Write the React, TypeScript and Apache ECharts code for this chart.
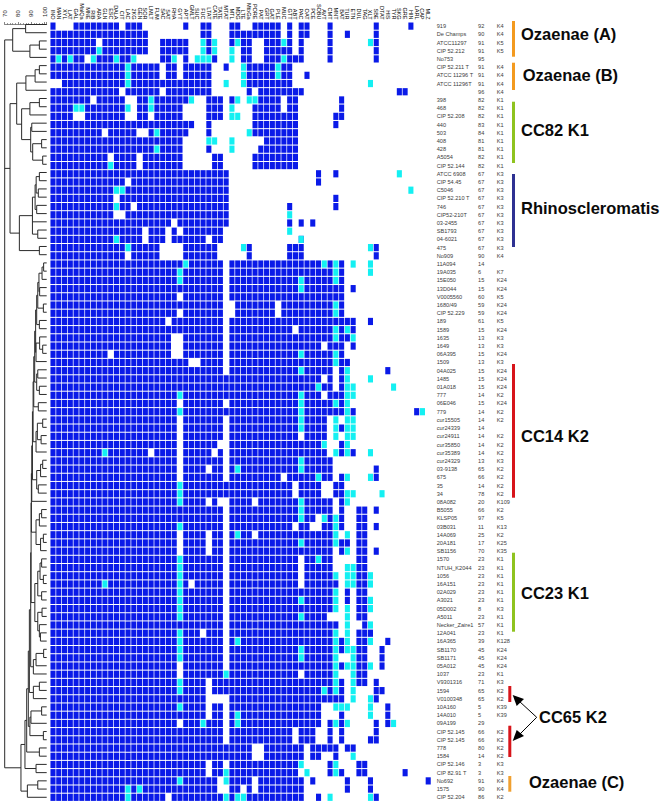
import React, { useEffect, useRef } from "react";
import * as echarts from "echarts";

const assays = ["INO","MAN","XYL","LAT","GAL","MalQa","MNE","RIB","ARA","GLN","ESC","DALA","CIT","LAC","2KG","GEN","SOR","LMLT","FUM","SAC","SAT","RHA","GYT","APT","GMLT","SUC","FUC","LTAT","CATE","TATE","MTAT","MTL","MDG","LTE","MtbGa","PORE","PAT","GRT","GAT","PLE","MUC","GTT","ABT","PAC","OAT","PCE","SOBU","AVT","CMT","MNT","BAT","TUR","ETN","DUL","TAG","XLT","SBE","DTAT","HIS","TYR","SKG","GRE","HIN","LARL","CAP","MLZ"];

const strains = ["919","De Champs","ATCC11297","CIP 52.212","No753","CIP 52.211 T","ATCC 11296 T","ATCC 11296T","","398","468","CIP 52.208","440","503","408","428","A5054","CIP 52.144","ATCC 6908","CIP 54.45","C5046","CIP 52.210 T","746","CIP52-210T","03-2455","SB1793","04-6021","475","No909","11A094","19A035","15E050","13D044","V0005560","1680/49","CIP 52.229","189","1589","1635","1649","06A395","1509","04A025","1485","01A018","777","06E046","779","cur15505","cur24339","cur24911","cur35850","cur35389","cur24329","03-9138","675","35","34","08A082","B5055","KLSP05","03B031","14A069","20A181","SB1156","1570","NTUH_K2044","1056","16A151","02A029","A3021","05D002","A5011","Necker_Zaire1","12A041","16A365","SB1170","SB1171","05A012","1037","V9301316","1594","V0100348","10A160","14A010","09A199","CIP 52.145","CIP 52.145","778","1584","CIP 52.146","CIP 82.91 T","No692","1575","CIP 52.204"];

const sequenceTypes = ["92","90","91","91","95","91","91","91","96","82","82","82","83","84","81","81","82","82","67","67","67","67","67","67","67","67","67","67","90","14","6","15","15","60","59","59","61","15","13","13","15","13","15","15","15","14","15","14","14","14","14","14","14","13","65","66","14","78","20","66","97","11","25","17","70","23","23","23","23","23","23","8","23","57","23","39","45","45","45","23","71","65","65","5","5","29","66","66","80","14","3","3","91","90","86"];

const capsules = ["K4","K4","K5","K5","","K4","K4","K4","K4","K1","K1","K1","K1","K1","K1","K1","K1","K1","K3","K3","K3","K3","K3","K3","K3","K3","K3","K3","K4","","K7","K24","K24","K5","K24","K24","K5","K24","K3","K3","K24","K3","K24","K24","K24","K2","K24","K2","K2","","K2","K2","K2","K3","K2","K2","K2","K2","K109","K2","K5","K13","K2","K25","K35","K1","K1","K1","K1","K1","K1","K3","K1","K1","K1","K128","K24","K24","K24","K1","K3","K2","K2","K39","K39","","K2","K2","K2","K2","K3","K3","K4","K4","K2"];

// Positive results per strain, as column index ranges.
const positive = ["0,4-11,13-15,23,26,27,31,32,35-39,41,43,44,48,56,62","0-16,26,27,31-39,41,43,44,48,51,56","0-7,9-16,19-23,27,31,33,34,37-39,41,43,48,56","0-7,9-16,19-23,27,33,34,37-41,43,48,56","0,2,4,5,8-10,12,13,19,20,23,28,33,34,37-39,41-43,48,56","0-12,14-18,20,21,23-27,30,34-38,40,41","0-12,14-18,20,21,23-27,34-38,40,41,44","2-12,14-27,34-41","0-11,13-18,20-27,34,36-43,60,61","0-6,8-12,15,16,18-23,27-29,31,36-39,41,42,50","0-3,6-12,15,16,18-22,27-29,35-39,41,42,50","0-3,6-12,15,16,18-22,27-29,35-42,49,50","0-24,27,35-42,49","0-8,10-14,17,19-23,27,35-42","0-22,37-42","0-17,19-22,27,36-42","0-9,11-14,16-22,28,29,35-42","0-9,11-14,16-22,28,29,35-42","0-30,46,49","0-12,14-30,46","0-10,13-30","0-10,12-30,49","0-10,12,13,15-30,41,49","0-10,13-30","0-20,22-30,41,43,45","0-15,17-19,21,23-29","0-10,12-15,17-19,21-26,28,29,43","0-12,14-18,23-28,34,41-43,56","0-12,14-18,23-28,34,41-43,56","0-22,24-29,31-46,48,50","0-21,23-29,31-48,50","0-21,23-29,31-42,44-48,50","0-29,31-42,44-50,52","0-21,23-29,31-50","0-29,32-38,40-48,50","0-21,23-29,32-38,40-48,50","0-19,21-29,31-52,55","0-29,31-41,43-48,50,52","0-20,23-29,31-48,50,51","0-20,23-29,31-46,48-50,52","0-9,11-20,23-29,31-42,44-48,50","0-23,26-29,31-48,50,51","0-29,31-42,44-48,50,58","0-46,48,50","0-45,47,48,50","0-21,23-42,44-46,48-50","0-21,23-29,31-42,44-48,50","0-21,23-42,44-50,52,63","0-21,23-29,31-42,44-47","0-21,23-29,31-42,44-47,50","0-21,23-29,31-42,44-47","0-21,23-28,31-46,50","0-8,10-16,18-21,23-27,29,31-47,50,52","0-21,23-29,31-42,44-48","0-21,23-26,28,29,31,33-42,44-48,56","0-21,23-29,31-39,41-45,47,48,50,56","0-21,23-41,43-46,49,50","0-21,23-41,43-46,49,50","0-21,23-26,28,31-34,36-42,44-48,50","0-29,31-42,44-48,50,53,54,56","0-29,31-42,44,45,48,50,53,54","0-21,23-29,31-41,43,44,47,48,50,53,54,56","0-21,23-26,28,29,31,33,34,36-48,53,54","0-21,23-26,28,29,31-42,44-48,50,51,53,54","0-21,23-26,28,29,31-48,50,53,54,56","0-21,23-29,31-42,44,45,47,48,53,54","0-21,23-29,31-42,44-48,53,54","0-21,23-29,31-42,44-48,53,54","0-8,10-21,23,25-29,31-42,44-49,53,54","0-21,23-29,31-48,51,53,54","0-21,23-29,31-42,44-48,51,53,54","0-21,23-29,31-48,53,54","0-21,23-29,31-42,44-47,53,54","0-29,31-49,54","0-21,23-25,27-29,31-48,53-55","0-21,23-29,31,33-48,50,53,54,58","0-21,23-29,31-42,44-48,50,53,54,57","0-21,23-29,31-42,44-48,53,54,57","0-21,23-29,31-48,50,53,54,57","0-21,23-29,31-42,44-48,53,54","0-21,23-26,28-48,50,53,54,56","0-21,23-26,28-46,48,50,56,57","0-26,31-50,56","0-21,23-26,28,29,31-46,58","0-26,28,29,31,33-46,50,58","0-21,23-25,27-29,31,33-46,48,50,56,58","0-29,31-41,43-45,48,50,56","0-29,31-41,43-45,48,50,55,56","0-34,37-43,45-49,51,52","0-34,37-43,45,46,49","0-26,28,29,31-42,48,53,54","0-26,28,29,31-42,48,50,53,54,61","0-21,23-28,31-34,36-43,45,51,55,65","0-12,14,16-28,31,32,34,36-43,51,55","0-12,14-19,21-29,31,34-43,46,56"];

// Variable results per strain.
const variable = ["","","26,28,32,40,55","8,26,28,31","1,3,7,11,14,21,25-27,31,40","13,33,39","13,33,39","13,30,33,55","","17,24,32,34,35","4,5,13,17,31","31,32","","18,34","27,28,31","18,31","","10","60","","11,12,62","","11","41","","41","11,43","13,33,55","","23,47,49,52,55","22,49,55","22,43,49","43","","49","49","","49,51","49,52","","43,49","49","43,51","51,55","46,51,52,59","22,43,51,52","43,49,51","22,43,51,64","43,49,51,52","43,49,51,52","49,51,52","47,51","9,49,51,55","43","32,43","46,51,55","22","22,51,52,57","22,43,51","43","43,47,49","22,49","32,49,51","43,49","51","22,46","22,51,52","22,49,51,52,55","9,22,51,52,55","22,49","22,43,49,55","22,49,51,55","22,43,51","51,55","22,49,51","22,32,49,51,55","22,43,49,51,52","22,43,49,52","49,51,52,55","30,49,52","22,49,52","22,47,49,52","52,55","22,49,50,51,55","32,55","26,32,49,51,59","","","","52","43,49","30,44,49","22,30","13,15","13,30,32,33,48,55"];

// Clustering tree on the drawn axis: [similarity, ...children]; a plain number is a row.
const ladder1 = [95.7, [98.0, [99.2, 29, 30], 31], [96.2, 32, 33]];
const ladder2 = [94.8, ladder1, [99.0, 34, 35]];
const ladder3 = [94.0, ladder2, [96.0, 36, 37]];
const ladder4 = [93.2, ladder3, [93.5, [96.2, 38, [98.5, 39, 40]], 41]];
const ladder5 = [92.5, ladder4, [94.0, [94.8, 42, 43], [96.0, 44, 45]]];
const ladder6 = [91.8, ladder5, [95.2, 46, 47]];
const ladder7 = [91.3, ladder6, [93.5, [94.5, [98.5, 48, 49], [97.3, 50, 51]], 52]];
const ladder8 = [90.8, ladder7, [94.0, [96.9, [98.5, 53, 54], 55], [95.2, 56, 57]]];
const ladder9 = [90.3, ladder8, 58];
const ladder10 = [90.0, ladder9, [93.5, [96.0, [97.7, 59, 60], 61], [96.9, [99.0, 62, 63], 64]]];
const ladder11 = [89.8, ladder10, [92.6, [94.8, [96.5, [97.7, 65, 66], [99.0, 67, 68]], [97.7, 69, 70]], [94.8, [98.0, 71, 72], [96.0, 73, [96.8, 74, 75]]]]];
const ladder12 = [89.5, ladder11, [91.5, [93.5, [99.2, 76, 77], 78], 79]];
const ladder13 = [88.5, ladder12, [91.5, [96.0, 80, 81], 82]];
const ladder14 = [87.7, ladder13, [88.9, [89.7, [97.7, 83, 84], 85], [99.0, 86, 87]]];
const ladder15 = [86.5, ladder14, [96.0, 88, 89]];
const lowerClade = [82.2, [85.2, ladder15, [93.5, 90, 91]], [87.0, [94.8, 92, 93], 94]];
const middleClade = [74.0,
  [79.0,
    [85.9, [92.8, [96.0, 5, 6], 7], 8],
    [82.7, [88.9, [96.0, 9, 10], 11], [89.5, [90.3, 12, 13], [91.0, [97.7, 14, 15], [98.5, 16, 17]]]]],
  [81.0,
    [90.8, [92.8, [93.6, [96.0, 18, 19], [95.2, 20, 21]], [94.0, 22, 23]], 24, [94.8, 25, 26]],
    [96.0, 27, 28]]];
const upperClade = [76.0, [85.7, 0, 1], [88.9, [96.0, 2, 3], 4]];
const tree = [70, upperClade, middleClade, lowerClade];

const AXIS_END = 101.5;
const BLUE = "#0a1ae8";
const CYAN = "#14f0f2";
const FONT = "'Liberation Sans', Arial, sans-serif";

function expand(spec: string): number[] {
  if (!spec) return [];
  const out: number[] = [];
  for (const part of spec.split(",")) {
    const [a, b] = part.split("-").map(Number);
    for (let i = a; i <= (b === undefined ? a : b); i++) out.push(i);
  }
  return out;
}

function cells(rows: string[]): number[][] {
  const out: number[][] = [];
  rows.forEach((spec, r) => expand(spec).forEach((c) => out.push([c, r])));
  return out;
}

function segments(node: any, out: number[][]): [number, number] {
  if (typeof node === "number") return [AXIS_END, node];
  const sim = node[0];
  const kids = node.slice(1).map((k: any) => segments(k, out));
  kids.forEach((k: [number, number]) => out.push([sim, k[1], k[0], k[1]]));
  const y0 = kids[0][1];
  const y1 = kids[kids.length - 1][1];
  out.push([sim, y0, sim, y1]);
  return [sim, (y0 + y1) / 2];
}

function cellSeries(rows: string[], fill: string) {
  return {
    type: "custom",
    xAxisIndex: 0,
    yAxisIndex: 0,
    data: cells(rows),
    encode: { x: 0, y: 1 },
    silent: true,
    renderItem: (_: any, api: any) => {
      const p = api.coord([api.value(0), api.value(1)]);
      const s = api.size([1, 1]);
      return {
        type: "rect",
        shape: { x: p[0] - s[0] / 2 + 0.35, y: p[1] - s[1] / 2 + 0.5, width: s[0] - 0.7, height: s[1] - 1 },
        style: { fill },
      };
    },
  };
}

function rowAxis(names: string[], offset: number) {
  return {
    type: "category",
    gridIndex: 0,
    data: names,
    inverse: true,
    position: "right",
    offset,
    axisLine: { show: false },
    axisTick: { show: false },
    splitLine: { show: false },
    axisLabel: { show: true, interval: 0, margin: 0, fontSize: 5.6, color: "#3c3c3c", fontFamily: FONT, hideOverlap: false },
  };
}

const bar = (x: number, y0: number, y1: number, fill: string) => ({
  type: "rect", shape: { x, y: y0, width: 3, height: y1 - y0 }, style: { fill }, silent: true,
});
const label = (x: number, y: number, text: string) => ({
  type: "text", x, y, silent: true,
  style: { text, fontSize: 16.5, fontWeight: "bold", fontFamily: FONT, fill: "#0a0a0a", textVerticalAlign: "middle", textBaseline: "middle" },
});
const arrowLine = (x1: number, y1: number, x2: number, y2: number) => ({
  type: "line", shape: { x1, y1, x2, y2 }, style: { stroke: "#000", lineWidth: 1 }, silent: true,
});
const arrowHead = (points: number[][]) => ({
  type: "polygon", shape: { points }, style: { fill: "#000" }, silent: true,
});

export default function App() {
  const ref = useRef<HTMLDivElement>(null);
  useEffect(() => {
    document.body.style.margin = "0";
    const chart = echarts.init(ref.current!, undefined, { renderer: "svg" });
    const lines: number[][] = [];
    segments(tree, lines);
    chart.setOption({
      animation: false,
      backgroundColor: "#fff",
      tooltip: { show: false },
      grid: [
        { left: 50.1, top: 20.4, width: 381, height: 781 },
        { left: 4.7, top: 20.4, width: 42, height: 781 },
      ],
      xAxis: [
        {
          type: "category", gridIndex: 0, data: assays, position: "top",
          axisLine: { show: false }, axisTick: { show: false }, splitLine: { show: false },
          axisLabel: { interval: 0, rotate: 90, margin: 2.5, fontSize: 5.5, color: "#000", fontFamily: FONT, hideOverlap: false },
        },
        {
          type: "value", gridIndex: 1, min: 70, max: AXIS_END, interval: 10, position: "top",
          axisLine: { show: true, lineStyle: { color: "#555", width: 0.7 } },
          axisTick: { show: true, length: 2.5, lineStyle: { color: "#555", width: 0.7 } },
          minorTick: { show: true, splitNumber: 5, length: 1.5, lineStyle: { color: "#555", width: 0.6 } },
          splitLine: { show: false },
          axisLabel: { rotate: 90, margin: 3.5, fontSize: 6, color: "#222", fontFamily: FONT, showMaxLabel: false },
        },
      ],
      yAxis: [
        rowAxis(strains, 5.6),
        rowAxis(sequenceTypes, 47),
        rowAxis(capsules, 65.7),
        { type: "value", gridIndex: 1, min: -0.5, max: 94.5, inverse: true, show: false },
      ],
      series: [
        cellSeries(positive, BLUE),
        cellSeries(variable, CYAN),
        {
          type: "custom",
          xAxisIndex: 1,
          yAxisIndex: 3,
          data: lines,
          encode: { x: [0, 2], y: [1, 3] },
          silent: true,
          clip: false,
          renderItem: (_: any, api: any) => {
            const a = api.coord([api.value(0), api.value(1)]);
            const b = api.coord([api.value(2), api.value(3)]);
            return {
              type: "line",
              shape: { x1: a[0], y1: a[1], x2: b[0], y2: b[1] },
              style: { stroke: "#2a2a2a", lineWidth: 1 },
            };
          },
        },
      ],
      graphic: [
        bar(512, 21, 56.7, "#f39a1f"),
        bar(512, 62.7, 90, "#f39a1f"),
        bar(512, 101.7, 163, "#8fc31f"),
        bar(512, 174, 247, "#2e3192"),
        bar(512, 364, 497.7, "#d7141a"),
        bar(512, 552.7, 631.7, "#8fc31f"),
        bar(508.3, 686, 702, "#d7141a"),
        bar(508.3, 725.7, 757, "#d7141a"),
        bar(508.3, 776, 791.7, "#f0a030"),
        label(521, 34, "Ozaenae (A)"),
        label(522.7, 75, "Ozaenae (B)"),
        label(521, 130, "CC82 K1"),
        label(521, 208, "Rhinoscleromatis"),
        label(521, 436, "CC14 K2"),
        label(521, 593, "CC23 K1"),
        label(539, 717, "CC65 K2"),
        label(529, 781.7, "Ozaenae (C)"),
        arrowLine(536.7, 717.3, 519, 701),
        arrowLine(536.7, 717.3, 519, 735),
        arrowHead([[512.7, 695], [524, 699], [516.7, 706]]),
        arrowHead([[512.7, 741], [524, 736], [516.7, 730]]),
      ],
    });
    return () => chart.dispose();
  }, []);
  return <div ref={ref} style={{ position: "absolute", left: 0, top: 0, width: 661, height: 802 }} />;
}
